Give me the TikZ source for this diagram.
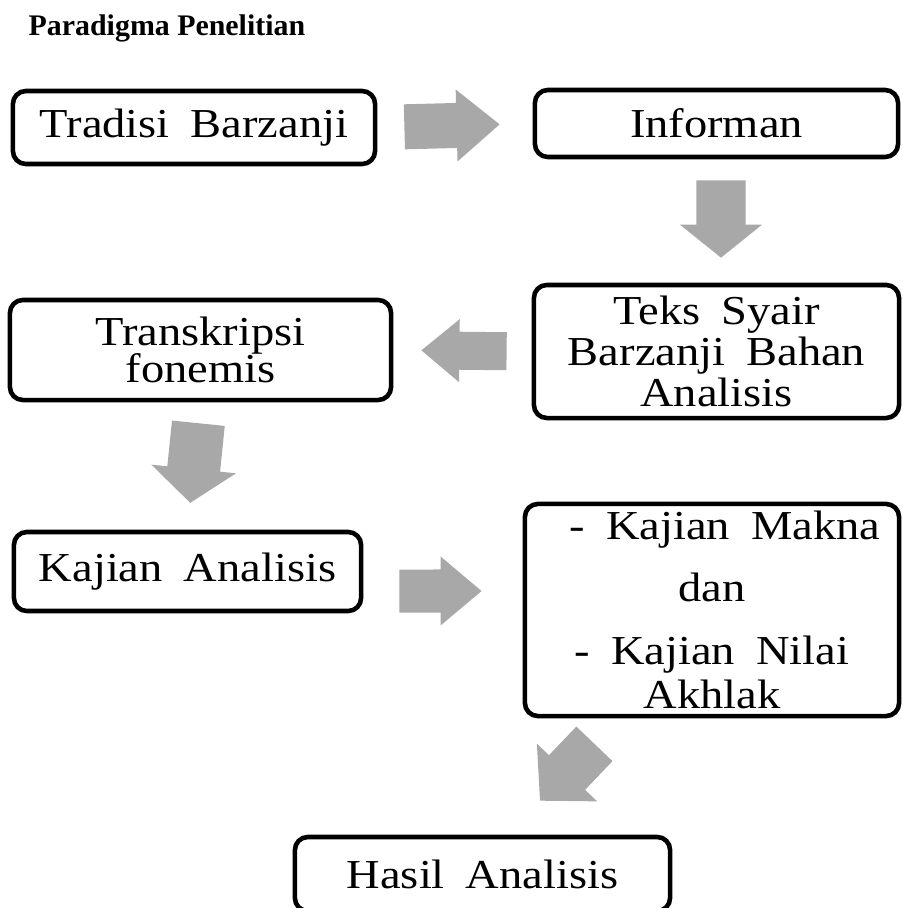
\documentclass[tikz,border=0pt]{standalone}
\usepackage{fontspec}
\setmainfont{Liberation Serif}
\newfontfamily\boxfont{Liberation Serif}[FakeStretch=1.13,WordSpace=1.8]
\usetikzlibrary{calc}
\definecolor{ink}{gray}{0.0}
\definecolor{arrowfill}{gray}{0.66}
\tikzset{
  box/.style={draw=ink, line width=1.3pt, rounded corners=1.3mm, fill=white, align=center,
              inner sep=2pt, font=\boxfont\fontsize{11.7}{10.5}\selectfont},
  ttl/.style={font=\bfseries\fontsize{8.5}{10}\selectfont, inner sep=0pt, anchor=base west},
}
% block arrow: start, tip, half shaft, half head, head length
\newcommand{\blockarrow}[5]{%
  \coordinate (bs) at (#1);
  \coordinate (be) at (#2);
  \coordinate (bh) at ($(be)!#5!(bs)$);
  \fill[arrowfill] ($(bs)!#3!90:(be)$) -- ($(bh)!#3!90:(be)$) -- ($(bh)!#4!90:(be)$) -- (be)
    -- ($(bh)!#4!-90:(be)$) -- ($(bh)!#3!-90:(be)$) -- ($(bs)!#3!-90:(be)$) -- cycle;
}
\begin{document}
\begin{tikzpicture}[x=0.01cm, y=-0.01cm]
  \clip (0,0) rectangle (903,908);
  \node[ttl] (title) at (28,35) {Paradigma Penelitian};
  % boxes
  \node[box, minimum width=3.62cm, minimum height=0.73cm] (tb) at (194,127.5) {Tradisi Barzanji};
  \node[box, minimum width=3.63cm, minimum height=0.67cm] (inf) at (716.5,123.5) {Informan};
  \node[box, minimum width=3.65cm, minimum height=1.33cm] (teks) at (716.5,351.5)
    {Teks Syair\\Barzanji Bahan\\Analisis};
  \node[box, minimum width=3.81cm, minimum height=1.00cm] (tr) at (200.5,350)
    {Transkripsi\\[-1.1pt]fonemis};
  \node[box, minimum width=3.47cm, minimum height=0.79cm] (ka) at (187.5,571.5) {Kajian Analisis};
  \node[box, minimum width=3.74cm, minimum height=2.12cm] (mk) at (712,610)
    {\hspace{0.26cm}- Kajian Makna\\[6pt]dan\\[7.4pt]- Kajian Nilai\\[0.9pt]Akhlak};
  \node[box, minimum width=3.75cm, minimum height=0.74cm] (ha) at (482.5,874) {Hasil Analisis};
  % block arrows
  \blockarrow{$(tb.east)!2.7mm!(inf.west)$}{$(inf.west)!3.3mm!(tb.east)$}{2.25mm}{3.6mm}{4.3mm}
  \blockarrow{$([xshift=0.45mm]inf.south)!2.1mm!([xshift=0.45mm]teks.north)$}
    {$([xshift=0.45mm]teks.north)!2.5mm!([xshift=0.45mm]inf.south)$}{2.45mm}{4.1mm}{3.3mm}
  \blockarrow{$(teks.west)!2.5mm!(tr.east)$}{$(tr.east)!2.8mm!(teks.west)$}{1.9mm}{3.15mm}{3.8mm}
  \blockarrow{$(tr.south)!2.1mm!(ka.north)$}{$(ka.north)!2.7mm!(tr.south)$}{2.65mm}{4.25mm}{3.4mm}
  \blockarrow{$([yshift=-1.95mm]ka.east)!3.6mm!([yshift=1.9mm]mk.west)$}
    {$([yshift=1.9mm]mk.west)!4.1mm!([yshift=-1.95mm]ka.east)$}{2.15mm}{3.45mm}{4.1mm}
  \blockarrow{[xshift=-11.75mm, yshift=-2.55mm]mk.south}{[xshift=5.75mm, yshift=3.4mm]ha.north}
    {2.5mm}{4.17mm}{3.9mm}
\end{tikzpicture}
\end{document}
